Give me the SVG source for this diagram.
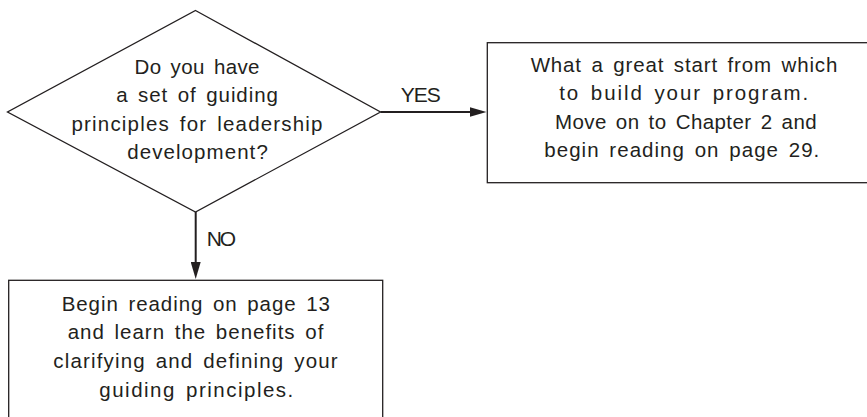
<svg xmlns="http://www.w3.org/2000/svg" width="867" height="417" viewBox="0 0 867 417">
  <style>
    .shape { fill: #ffffff; stroke: #231f20; stroke-width: 1.3; }
    .body { font-family: "Liberation Sans", Arial, sans-serif; font-size: 20.5px; word-spacing: 3px; fill: #231f20; text-anchor: middle; }
    .label { font-family: "Liberation Sans", Arial, sans-serif; font-size: 21px; fill: #231f20; text-anchor: start; }
    .flow { stroke: #231f20; stroke-width: 2; fill: none; marker-end: url(#head); }
  </style>
  <defs>
    <marker id="head" viewBox="0 0 17 10" markerWidth="17" markerHeight="10" refX="7" refY="5" orient="auto" markerUnits="userSpaceOnUse">
      <path d="M0,0 L17,5 L0,10 z" fill="#231f20"/>
    </marker>
  </defs>

  <rect width="867" height="417" fill="#ffffff"/>

  <!-- decision: guiding principles? -->
  <g id="decision">
    <polygon class="shape" points="195.5,10.5 380.5,112 195.5,212 7.5,112"/>
    <text class="body" x="197" y="74.3" textLength="125" lengthAdjust="spacing">Do you have</text>
    <text class="body" x="197" y="102.3" textLength="161.7" lengthAdjust="spacing">a set of guiding</text>
    <text class="body" x="197" y="130.5" textLength="251" lengthAdjust="spacing">principles for leadership</text>
    <text class="body" x="197.5" y="158.5" textLength="140.6" lengthAdjust="spacing">development?</text>
  </g>

  <!-- outcome when principles exist -->
  <g id="yes-outcome">
    <rect class="shape" x="487.3" y="42.7" width="385" height="140"/>
    <text class="body" x="684" y="71.5" textLength="306.7" lengthAdjust="spacing">What a great start from which</text>
    <text class="body" x="683.7" y="100" textLength="249" lengthAdjust="spacing">to build your program.</text>
    <text class="body" x="685.8" y="128.5" textLength="261.7" lengthAdjust="spacing">Move on to Chapter 2 and</text>
    <text class="body" x="681.8" y="157" textLength="275" lengthAdjust="spacing">begin reading on page 29.</text>
  </g>

  <!-- outcome when principles are missing -->
  <g id="no-outcome">
    <rect class="shape" x="8.7" y="280.3" width="374" height="150"/>
    <text class="body" x="195.8" y="310.5" textLength="268.3" lengthAdjust="spacing">Begin reading on page 13</text>
    <text class="body" x="195.5" y="339.2" textLength="255.7" lengthAdjust="spacing">and learn the benefits of</text>
    <text class="body" x="195.5" y="368" textLength="284.3" lengthAdjust="spacing">clarifying and defining your</text>
    <text class="body" x="196.3" y="396.7" textLength="194" lengthAdjust="spacing">guiding principles.</text>
  </g>

  <!-- connectors -->
  <g id="connectors">
    <line class="flow" x1="380.5" y1="112" x2="476.5" y2="112"/>
    <line class="flow" x1="195.7" y1="212" x2="195.7" y2="269"/>
    <text class="label" x="400.7" y="102" textLength="40" lengthAdjust="spacing">YES</text>
    <text class="label" x="206.7" y="245.5" textLength="29.3" lengthAdjust="spacing">NO</text>
  </g>
</svg>
